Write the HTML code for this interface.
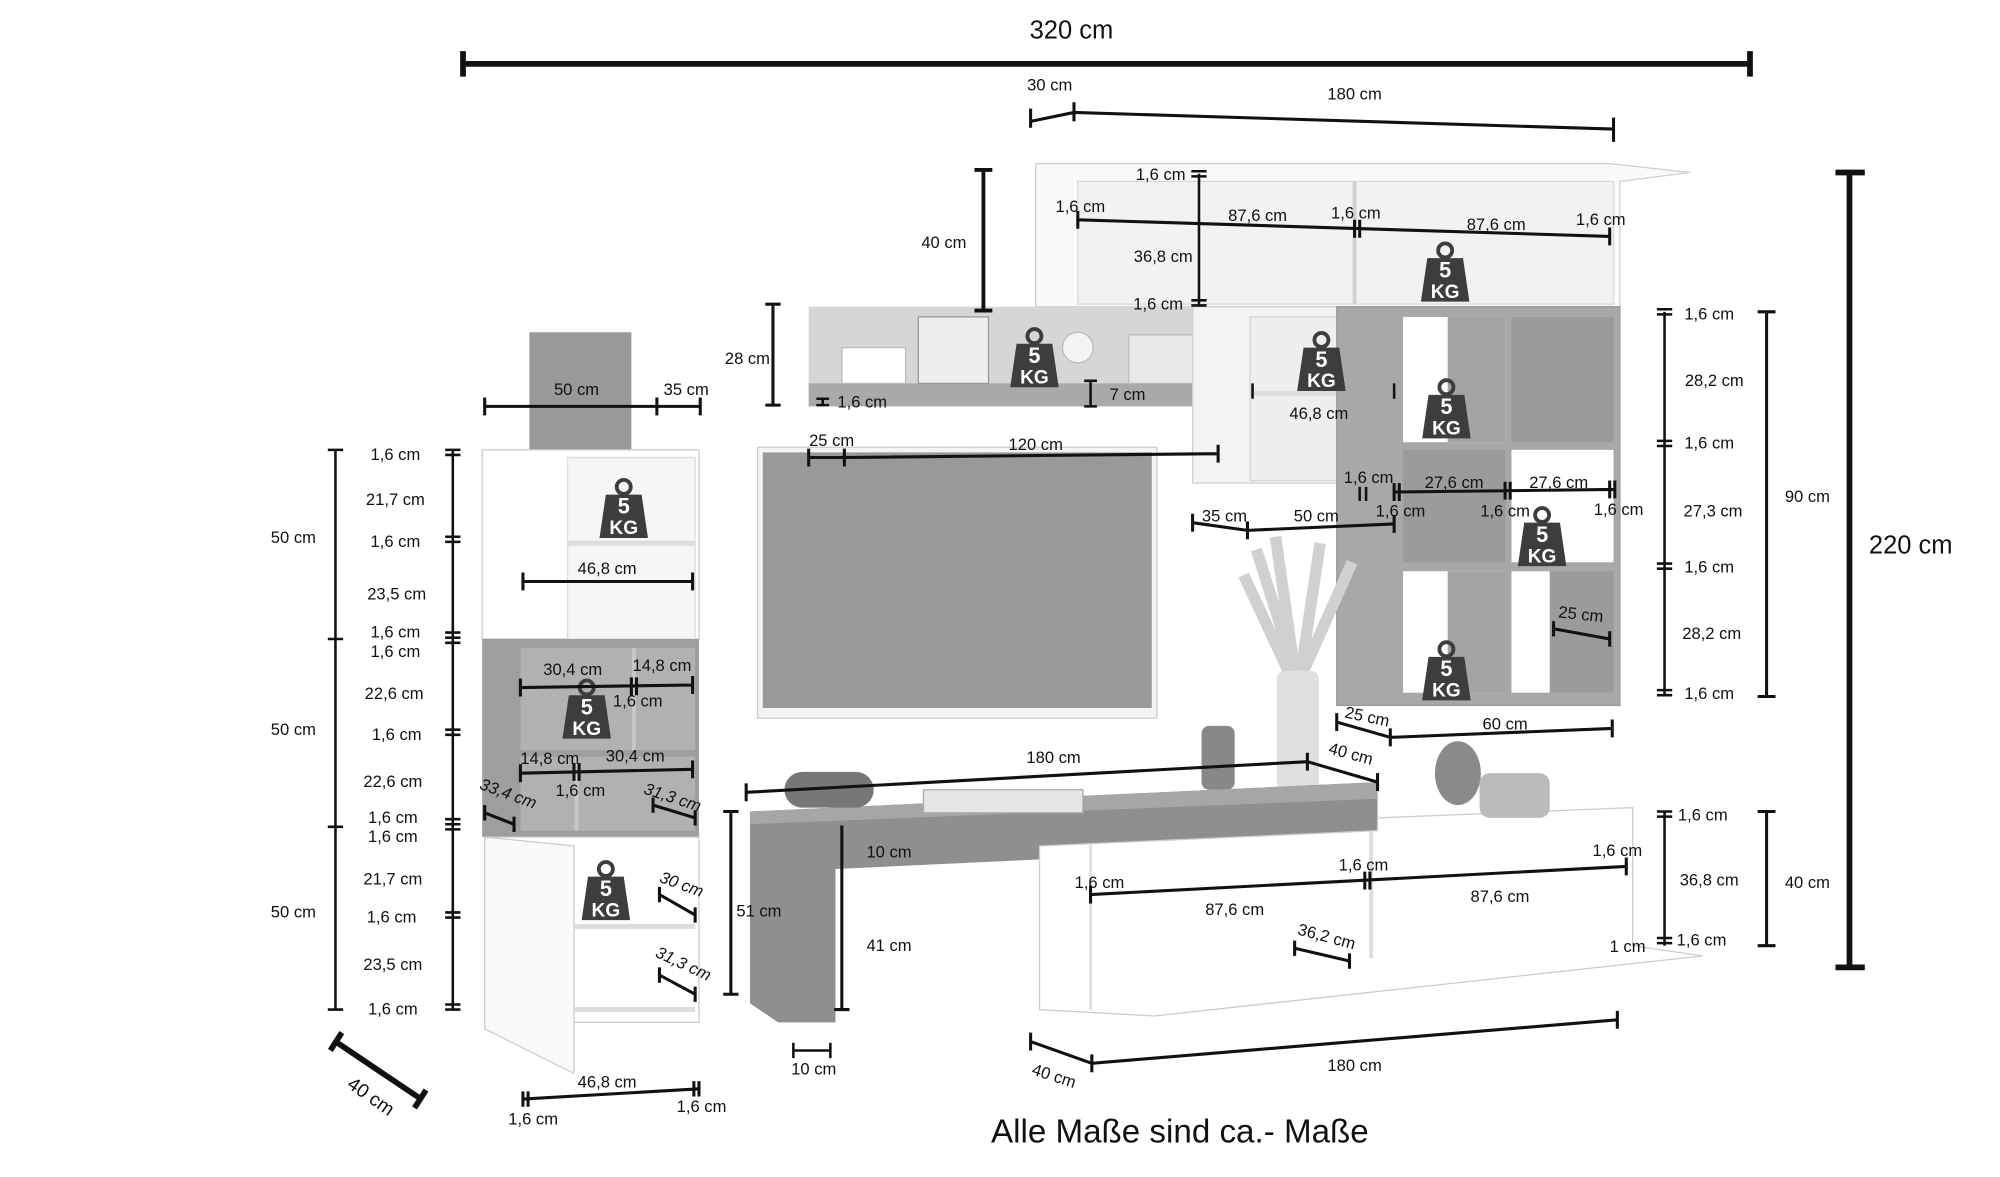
<!DOCTYPE html>
<html><head><meta charset="utf-8"><style>
html,body{margin:0;padding:0;background:#fff;}
svg{display:block;}
text{font-family:"Liberation Sans",sans-serif;font-size:13px;fill:#111;text-anchor:middle;}
.d{stroke:#111;stroke-width:2.4;fill:none;}
.t{stroke:#111;stroke-width:2;fill:none;}
</style></head><body>
<svg width="2000" height="1177" viewBox="0 0 1568 921" preserveAspectRatio="none" xmlns="http://www.w3.org/2000/svg">
<defs>
<g id="kg">
<circle cx="0" cy="-17" r="5.5" fill="none" stroke="#3d3d3d" stroke-width="3"/>
<path d="M-14,-11 L14,-11 L19,23 L-19,23 Z" fill="#3d3d3d"/>
<text x="0" y="4" style="fill:#fff;font-weight:bold;font-size:17px">5</text>
<text x="0" y="20" style="fill:#fff;font-weight:bold;font-size:15px">KG</text>
</g>
</defs>

<polygon points="812,128 1262,128 1325,135 1270,142 1270,240 812,240" fill="#fafafa" stroke="#cfcfcf"/>
<rect x="845" y="142" width="420" height="96" fill="#f2f2f2" stroke="#d8d8d8"/>
<line x1="1062" y1="142" x2="1062" y2="238" stroke="#d0d0d0" stroke-width="3"/>
<rect x="634" y="240" width="340" height="62" fill="#d6d6d6"/>
<rect x="634" y="300" width="332" height="18" fill="#a9a9a9"/>
<rect x="660" y="272" width="50" height="28" fill="#fff" stroke="#bbb"/>
<rect x="720" y="248" width="55" height="52" fill="#eee" stroke="#999"/>
<circle cx="845" cy="272" r="12" fill="#f3f3f3" stroke="#bbb"/>
<rect x="885" y="262" width="70" height="38" fill="#e8e8e8" stroke="#bbb"/>
<rect x="935" y="240" width="160" height="138" fill="#f3f3f3" stroke="#d0d0d0"/>
<rect x="980" y="248" width="108" height="128" fill="#eeeeee" stroke="#d6d6d6"/>
<line x1="980" y1="308" x2="1088" y2="308" stroke="#ddd" stroke-width="4"/>
<rect x="1048" y="240" width="222" height="312" fill="#a8a8a8" stroke="#999"/>
<rect x="1100" y="248" width="80" height="98" fill="#fff"/>
<rect x="1185" y="248" width="80" height="98" fill="#9b9b9b"/>
<rect x="1100" y="352" width="80" height="88" fill="#9b9b9b"/>
<rect x="1185" y="352" width="80" height="88" fill="#fff"/>
<rect x="1100" y="447" width="80" height="95" fill="#fff"/>
<rect x="1185" y="447" width="80" height="95" fill="#9b9b9b"/>
<rect x="1135" y="248" width="45" height="98" fill="#a4a4a4"/>
<rect x="1135" y="447" width="45" height="95" fill="#a4a4a4"/>
<rect x="1185" y="447" width="30" height="95" fill="#fff"/>
<rect x="594" y="350" width="313" height="212" fill="#f4f4f4" stroke="#ccc"/>
<rect x="598" y="354" width="305" height="200" fill="#999"/>
<path d="M1015,525 L985,430 M1015,525 L1000,420 M1020,525 L1035,425 M1022,525 L1060,440 M1010,525 L975,450" stroke="#d0d0d0" stroke-width="9"/>
<rect x="1001" y="525" width="33" height="92" fill="#e0e0e0" rx="6"/>
<rect x="942" y="568" width="26" height="50" fill="#888" rx="6"/>
<rect x="415" y="260" width="80" height="92" fill="#999"/>
<rect x="378" y="352" width="170" height="148" fill="#fff" stroke="#ccc"/>
<rect x="445" y="358" width="100" height="142" fill="#f6f6f6" stroke="#ddd"/>
<line x1="445" y1="425" x2="545" y2="425" stroke="#ddd" stroke-width="4"/>
<rect x="378" y="500" width="170" height="155" fill="#9e9e9e"/>
<rect x="408" y="507" width="137" height="80" fill="#b1b1b1"/>
<rect x="408" y="592" width="137" height="58" fill="#b1b1b1"/>
<line x1="497" y1="507" x2="497" y2="587" stroke="#c8c8c8" stroke-width="3"/>
<line x1="452" y1="592" x2="452" y2="650" stroke="#c8c8c8" stroke-width="3"/>
<rect x="380" y="655" width="168" height="145" fill="#fff" stroke="#ccc"/>
<polygon points="380,655 450,662 450,840 380,805" fill="#fafafa" stroke="#ccc"/>
<line x1="450" y1="725" x2="545" y2="725" stroke="#ddd" stroke-width="4"/>
<line x1="450" y1="790" x2="545" y2="790" stroke="#ddd" stroke-width="4"/>
<polygon points="588,635 1080,612 1080,660 655,680 655,800 610,800 588,785" fill="#8f8f8f"/>
<polygon points="588,635 1080,612 1080,625 588,645" fill="#a6a6a6"/>
<rect x="615" y="604" width="70" height="28" fill="#777" rx="14"/>
<rect x="724" y="618" width="125" height="18" fill="#e6e6e6" stroke="#aaa"/>
<polygon points="1080,640 1280,632 1280,740 1335,748 905,795 815,790 815,662 1080,650" fill="#fff" stroke="#ccc"/>
<line x1="855" y1="660" x2="855" y2="790" stroke="#ddd" stroke-width="2"/>
<line x1="1075" y1="650" x2="1075" y2="750" stroke="#ddd" stroke-width="3"/>
<ellipse cx="1143" cy="605" rx="18" ry="25" fill="#8a8a8a"/>
<rect x="1160" y="605" width="55" height="35" fill="#bbb" rx="8"/>

<use href="#kg" x="489" y="398"/>
<use href="#kg" x="811" y="280"/>
<use href="#kg" x="1036" y="283"/>
<use href="#kg" x="1133" y="213"/>
<use href="#kg" x="1134" y="320"/>
<use href="#kg" x="1209" y="420"/>
<use href="#kg" x="1134" y="525"/>
<use href="#kg" x="460" y="555"/>
<use href="#kg" x="475" y="697"/>

<text x="840" y="30" style="font-size:20px">320 cm</text>
<path d="M363,50 L1372,50 M363,40 L363,60 M1372,40 L1372,60" stroke="#111" stroke-width="4.5" fill="none"/>
<path class="d" d="M808,95 L842,88 L1265,101 M808,85 L808,100 M842,80 L842,95 M1265,92 L1265,111"/>
<text x="823" y="71">30 cm</text><text x="1062" y="78">180 cm</text>
<path d="M1450,135 L1450,757 M1439,135 L1462,135 M1439,757 L1462,757" stroke="#111" stroke-width="4.5" fill="none"/>
<text x="1498" y="433" style="font-size:20px">220 cm</text>
<path class="d" d="M1385,244 L1385,545 M1378,244 L1392,244 M1378,545 L1392,545"/>
<text x="1417" y="393">90 cm</text>
<path class="t" d="M1305,244 L1305,545 M1299,242 L1311,242 M1299,246 L1311,246 M1299,345 L1311,345 M1299,349 L1311,349 M1299,441 L1311,441 M1299,445 L1311,445 M1299,540 L1311,540 M1299,544 L1311,544"/>
<text x="1340" y="250">1,6 cm</text><text x="1344" y="302">28,2 cm</text><text x="1340" y="351">1,6 cm</text><text x="1343" y="404">27,3 cm</text><text x="1340" y="448">1,6 cm</text><text x="1342" y="500">28,2 cm</text><text x="1340" y="547">1,6 cm</text>
<path class="d" d="M1385,635 L1385,740 M1378,635 L1392,635 M1378,740 L1392,740"/>
<text x="1417" y="695">40 cm</text>
<path class="t" d="M1305,635 L1305,740 M1299,635 L1311,635 M1299,639 L1311,639 M1299,734 L1311,734 M1299,738 L1311,738"/>
<text x="1335" y="642">1,6 cm</text><text x="1340" y="693">36,8 cm</text><text x="1334" y="740">1,6 cm</text><text x="1276" y="745">1 cm</text>

<path class="t" d="M940,136 L940,238 M934,134 L946,134 M934,138 L946,138 M934,235 L946,235 M934,239 L946,239"/>
<text x="910" y="141">1,6 cm</text><text x="912" y="205">36,8 cm</text><text x="908" y="242">1,6 cm</text>
<path class="d" d="M845,172 L1262,185 M845,165 L845,179 M1062,172 L1062,186 M1066,172 L1066,186 M1262,178 L1262,192"/>
<text x="847" y="166">1,6 cm</text><text x="986" y="173">87,6 cm</text><text x="1063" y="171">1,6 cm</text><text x="1173" y="180">87,6 cm</text><text x="1255" y="176">1,6 cm</text>
<path class="d" d="M771,133 L771,243 M764,133 L778,133 M764,243 L778,243" style="stroke-width:3"/>
<text x="740" y="194">40 cm</text>
<path class="d" d="M606,238 L606,317 M600,238 L612,238 M600,317 L612,317"/>
<text x="586" y="285">28 cm</text>
<path class="t" d="M640,312 L650,312 M640,317 L650,317 M645,312 L645,317"/>
<text x="676" y="319">1,6 cm</text>
<path class="t" d="M855,298 L855,318 M850,298 L860,298 M850,318 L860,318"/>
<text x="884" y="313">7 cm</text>
<text x="1034" y="328">46,8 cm</text>
<path class="t" d="M982,300 L982,312 M1093,300 L1093,312"/>
<path class="d" d="M634,358 L662,358 L955,355 M634,351 L634,365 M662,351 L662,365 M955,348 L955,362"/>
<text x="652" y="349">25 cm</text><text x="812" y="352">120 cm</text>
<text x="1073" y="378">1,6 cm</text>
<path class="t" d="M1066,381 L1066,392 M1071,381 L1071,392"/>
<path class="d" d="M1093,385 L1266,383 M1093,378 L1093,392 M1097,378 L1097,392 M1180,377 L1180,391 M1184,377 L1184,391 M1262,376 L1262,390 M1266,376 L1266,390"/>
<text x="1140" y="382">27,6 cm</text><text x="1222" y="382">27,6 cm</text>
<text x="1098" y="404">1,6 cm</text><text x="1180" y="404">1,6 cm</text><text x="1269" y="403">1,6 cm</text>
<path class="d" d="M935,409 L978,415 L1093,410 M935,402 L935,416 M978,408 L978,422 M1093,403 L1093,417"/>
<text x="960" y="408">35 cm</text><text x="1032" y="408">50 cm</text>
<path class="d" d="M1218,492 L1262,500 M1218,486 L1218,498 M1262,494 L1262,506"/>
<text x="1239" y="485" transform="rotate(6 1239 485)">25 cm</text>
<path class="d" d="M1048,565 L1090,577 L1264,570 M1048,558 L1048,572 M1090,570 L1090,584 M1264,563 L1264,577"/>
<text x="1071" y="565" transform="rotate(12 1071 565)">25 cm</text><text x="1180" y="571">60 cm</text>

<path class="d" d="M585,620 L1025,596 L1080,612 M585,613 L585,627 M1025,589 L1025,603 M1080,605 L1080,619"/>
<text x="826" y="597">180 cm</text>
<text x="1058" y="594" transform="rotate(15 1058 594)">40 cm</text>
<path class="d" d="M573,635 L573,778 M567,635 L579,635 M567,778 L579,778"/>
<text x="595" y="717">51 cm</text>
<path class="d" d="M660,646 L660,790 M654,790 L666,790"/>
<text x="697" y="671">10 cm</text><text x="697" y="744">41 cm</text>
<path class="t" d="M622,822 L651,822 M622,816 L622,828 M651,816 L651,828"/>
<text x="638" y="841">10 cm</text>
<path class="d" d="M808,815 L856,832 L1268,798 M808,808 L808,822 M856,825 L856,839 M1268,791 L1268,805"/>
<text x="1062" y="838">180 cm</text>
<text x="825" y="846" transform="rotate(18 825 846)">40 cm</text>
<path class="d" d="M855,700 L1275,678 M855,693 L855,707 M1070,682 L1070,696 M1074,682 L1074,696 M1275,671 L1275,685"/>
<text x="862" y="695">1,6 cm</text><text x="968" y="716">87,6 cm</text><text x="1069" y="681">1,6 cm</text><text x="1176" y="706">87,6 cm</text><text x="1268" y="670">1,6 cm</text>
<path class="d" d="M1015,742 L1058,752 M1015,736 L1015,748 M1058,746 L1058,758"/>
<text x="1039" y="737" transform="rotate(15 1039 737)">36,2 cm</text>

<path class="d" d="M380,318 L549,318 M380,311 L380,325 M515,311 L515,325 M549,311 L549,325"/>
<text x="452" y="309">50  cm</text><text x="538" y="309">35  cm</text>
<path class="t" d="M263,352 L263,790 M257,352 L269,352 M257,500 L269,500 M257,647 L269,647 M257,790 L269,790"/>
<text x="230" y="425">50 cm</text><text x="230" y="575">50 cm</text><text x="230" y="718">50 cm</text>
<path class="t" d="M355,352 L355,790 M349,352 L361,352 M349,356 L361,356 M349,420 L361,420 M349,424 L361,424 M349,495 L361,495 M349,499 L361,499 M349,503 L361,503 M349,571 L361,571 M349,575 L361,575 M349,641 L361,641 M349,645 L361,645 M349,649 L361,649 M349,714 L361,714 M349,718 L361,718 M349,786 L361,786 M349,790 L361,790"/>
<text x="310" y="360">1,6 cm</text><text x="310" y="395">21,7 cm</text><text x="310" y="428">1,6 cm</text><text x="311" y="469">23,5 cm</text><text x="310" y="499">1,6 cm</text><text x="310" y="514">1,6 cm</text><text x="309" y="547">22,6 cm</text><text x="311" y="579">1,6 cm</text><text x="308" y="616">22,6 cm</text><text x="308" y="644">1,6 cm</text><text x="308" y="659">1,6 cm</text><text x="308" y="692">21,7 cm</text><text x="307" y="722">1,6 cm</text><text x="308" y="759">23,5 cm</text><text x="308" y="794">1,6 cm</text>
<path class="d" d="M410,455 L543,455 M410,448 L410,462 M543,448 L543,462"/>
<text x="476" y="449">46,8 cm</text>
<path class="d" d="M408,538 L543,536 M408,531 L408,545 M495,530 L495,544 M499,530 L499,544 M543,529 L543,543"/>
<text x="449" y="528">30,4 cm</text><text x="519" y="525">14,8 cm</text><text x="500" y="553">1,6 cm</text>
<path class="d" d="M408,605 L543,602 M408,598 L408,612 M450,597 L450,611 M454,597 L454,611 M543,595 L543,609"/>
<text x="431" y="598">14,8 cm</text><text x="498" y="596">30,4 cm</text><text x="455" y="623">1,6 cm</text>
<path class="d" d="M380,636 L403,645 M380,630 L380,642 M403,639 L403,651"/>
<text x="397" y="625" transform="rotate(20 397 625)" style="font-style:italic">33,4 cm</text>
<path class="d" d="M512,630 L545,640 M512,624 L512,636 M545,634 L545,646"/>
<text x="526" y="628" transform="rotate(18 526 628)" style="font-style:italic">31,3 cm</text>
<path class="d" d="M517,700 L545,716 M517,694 L517,706 M545,710 L545,722"/>
<text x="533" y="696" transform="rotate(20 533 696)" style="font-style:italic">30 cm</text>
<path class="d" d="M517,763 L545,778 M517,757 L517,769 M545,772 L545,784"/>
<text x="534" y="758" transform="rotate(25 534 758)" style="font-style:italic">31,3 cm</text>
<path class="d" d="M410,860 L548,852 M410,854 L410,866 M414,854 L414,866 M544,846 L544,858 M548,846 L548,858"/>
<text x="476" y="851">46,8 cm</text><text x="418" y="880">1,6 cm</text><text x="550" y="870">1,6 cm</text>
<path d="M263,815 L330,860 M259,822 L268,808 M325,867 L334,853" stroke="#111" stroke-width="4.5" fill="none"/>
<text x="288" y="862" transform="rotate(35 288 862)" style="font-size:15px">40 cm</text>

<text x="925" y="894" style="font-size:26px">Alle Maße sind ca.- Maße</text>
</svg>
</body></html>
